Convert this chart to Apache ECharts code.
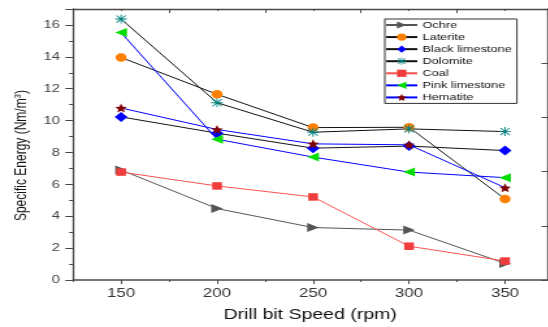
<!DOCTYPE html>
<html>
<head>
<meta charset="utf-8">
<script src="https://cdn.jsdelivr.net/npm/echarts@6/dist/echarts.min.js"></script>
<style>
  html, body { margin: 0; padding: 0; background: #fff; overflow: hidden; }
  #wrap { width: 548px; height: 327px; overflow: hidden; }
  /* the chart is laid out narrower and widened horizontally */
  #chart { width: 421.5px; height: 327px; transform: scaleX(1.3); transform-origin: 0 0; }
</style>
</head>
<body>
<div id="wrap"><div id="chart"></div></div>
<script>
// Drill bit speed (rpm)
const speeds = [150, 200, 250, 300, 350];

// Specific energy (Nm/m3) per rock type
const ochre          = [6.9, 4.48, 3.29, 3.13, 1.04];
const laterite       = [13.96, 11.65, 9.56, 9.58, 5.08];
const blackLimestone = [10.23, 9.21, 8.27, 8.4, 8.12];
const dolomite       = [16.37, 11.12, 9.27, 9.48, 9.31];
const coal           = [6.77, 5.9, 5.21, 2.12, 1.19];
const pinkLimestone  = [15.52, 8.83, 7.71, 6.77, 6.42];
const hematite       = [10.79, 9.44, 8.54, 8.48, 5.79];

// axis tick positions
const xLabelTicks = [150, 200, 250, 300, 350];
const xOffTicks   = [125, 175, 225, 275, 325];

const FONT = '"Liberation Sans", Arial, Helvetica, sans-serif';
const AXIS_COLOR = '#4a4a4a';

const asterisk = 'path://M0,9 L20,9 L20,11 L0,11 Z M9,0 L11,0 L11,20 L9,20 Z ' +
  'M2.8,1.4 L18.6,17.2 L17.2,18.6 L1.4,2.8 Z M17.2,1.4 L18.6,2.8 L2.8,18.6 L1.4,17.2 Z';
const star = 'path://M10,0 L12.9,6.9 L20,7.6 L14.7,12.4 L16.2,19.5 L10,15.8 L3.8,19.5 L5.3,12.4 L0,7.6 L7.1,6.9 Z';

function pairs(vals) { return speeds.map((s, i) => [s, vals[i]]); }

function line(name, vals, markColor, lineColor, symbol, size, rotate) {
  return {
    name: name,
    type: 'line',
    data: pairs(vals),
    symbol: symbol,
    symbolSize: size,
    symbolRotate: rotate || 0,
    showAllSymbol: true,
    itemStyle: { color: markColor, borderWidth: 0 },
    lineStyle: { color: lineColor, width: 1 },
    emphasis: { disabled: true },
    animation: false,
    z: 3
  };
}

const chart = echarts.init(document.getElementById('chart'), null, { renderer: 'canvas' });

chart.setOption({
  animation: false,
  textStyle: { fontFamily: FONT },
  grid: { left: 56.2, right: 1, top: 9, bottom: 47, containLabel: false },
  legend: {
    orient: 'vertical',
    left: 296,
    top: 19,
    padding: [1, 4, 1, 0],
    itemWidth: 24,
    itemHeight: 9,
    itemGap: 2.07,
    borderColor: '#333',
    borderWidth: 1,
    textStyle: { fontFamily: FONT, fontSize: 9.8, color: '#111', lineHeight: 9, padding: [0, 0, 0, -1] },
    data: ['Ochre', 'Laterite', 'Black limestone', 'Dolomite', 'Coal', 'Pink limestone', 'Hematite']
  },
  xAxis: [
    {
      type: 'value', position: 'bottom', min: 125, max: 372, interval: 25,
      name: 'Drill bit Speed (rpm)', nameLocation: 'middle', nameGap: 27,
      nameTextStyle: { fontFamily: FONT, fontSize: 15, color: '#111' },
      splitLine: { show: false },
      axisLine: { show: true, lineStyle: { color: AXIS_COLOR, width: 1.5 } },
      axisTick: { show: true, customValues: xLabelTicks, length: 4, lineStyle: { color: AXIS_COLOR } },
      axisLabel: { customValues: xLabelTicks, margin: 7, fontFamily: FONT, fontSize: 13, color: '#333' }
    },
    {
      type: 'value', position: 'bottom', min: 125, max: 372, interval: 25,
      splitLine: { show: false },
      axisLine: { show: false },
      axisTick: { show: true, customValues: xOffTicks, length: 2, lineStyle: { color: AXIS_COLOR } },
      axisLabel: { show: false }
    },
    {
      type: 'value', position: 'top', min: 125, max: 372, interval: 25,
      splitLine: { show: false },
      axisLine: { show: true, lineStyle: { color: AXIS_COLOR, width: 1.3 } },
      axisTick: { show: true, inside: true, customValues: xOffTicks, length: 4, lineStyle: { color: AXIS_COLOR } },
      axisLabel: { show: false }
    },
    {
      type: 'value', position: 'top', min: 125, max: 372, interval: 25,
      splitLine: { show: false },
      axisLine: { show: false },
      axisTick: { show: true, inside: true, customValues: xLabelTicks, length: 2, lineStyle: { color: AXIS_COLOR } },
      axisLabel: { show: false }
    }
  ],
  yAxis: [
    {
      type: 'value', position: 'left', min: 0, max: 17, interval: 2,
      name: 'Specific Energy (Nm/m{sup|3})', nameLocation: 'middle', nameGap: 31, nameRotate: 90,
      nameTextStyle: {
        fontFamily: FONT, fontSize: 12, color: '#111', padding: [0, 22, 0, 0],
        rich: { sup: { fontFamily: FONT, fontSize: 8, color: '#111', padding: [0, 0, 6, 0] } }
      },
      splitLine: { show: false },
      axisLine: { show: true, lineStyle: { color: AXIS_COLOR, width: 1.3 } },
      axisTick: { show: true, length: 6, lineStyle: { color: AXIS_COLOR } },
      minorTick: { show: true, splitNumber: 2, length: 3, lineStyle: { color: AXIS_COLOR } },
      axisLabel: {
        margin: 10, fontFamily: FONT, fontSize: 11.5, color: '#444',
        showMaxLabel: false
      }
    },
    {
      type: 'value', position: 'right', min: 0, max: 17, interval: 3.4,
      splitLine: { show: false },
      axisLine: { show: true, lineStyle: { color: AXIS_COLOR, width: 1.3 } },
      axisTick: { show: true, inside: true, length: 4.5, lineStyle: { color: AXIS_COLOR } },
      axisLabel: { show: false }
    }
  ],
  series: [
    line('Ochre', ochre, '#555555', '#555555', 'triangle', 9, -90),
    line('Laterite', laterite, '#ff8000', '#111111', 'circle', 8.5),
    line('Black limestone', blackLimestone, '#0000ff', '#111111', 'diamond', 10),
    line('Dolomite', dolomite, '#008080', '#111111', asterisk, 9),
    line('Coal', coal, '#f03c3c', '#ff5050', 'rect', 7.5),
    line('Pink limestone', pinkLimestone, '#00dd00', '#0000ff', 'triangle', 9, 90),
    line('Hematite', hematite, '#800000', '#0000ff', star, 9)
  ]
});
</script>
</body>
</html>
